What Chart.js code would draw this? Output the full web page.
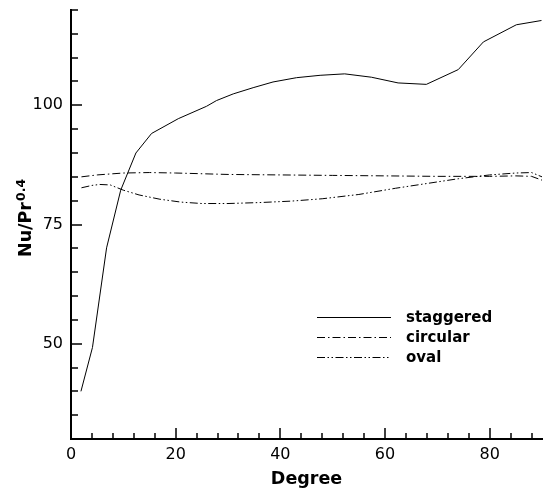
<!DOCTYPE html>
<html>
<head>
<meta charset="utf-8">
<script src="https://cdn.jsdelivr.net/npm/chart.js@4/dist/chart.umd.min.js"></script>
<style>
  html, body { margin: 0; padding: 0; background: #fff; }
  canvas { display: block; }
</style>
</head>
<body>
<canvas id="c" width="554" height="488"></canvas>
<script>
// ---- data ----
const seriesNames = ["staggered", "circular", "oval"];

const staggeredX = [1.9, 4.1, 6.8, 9.5, 12.4, 15.4, 20.5, 25.9, 27.8, 31.0, 34.8, 38.6, 43.1, 47.6, 52.3, 57.4, 62.5, 67.9, 74.0, 78.8, 85.1, 89.9];
const staggeredY = [40.0, 49.2, 70.1, 82.2, 90.0, 94.1, 97.2, 99.8, 101.0, 102.4, 103.7, 104.9, 105.8, 106.3, 106.6, 105.9, 104.7, 104.4, 107.5, 113.3, 116.9, 117.8];

const circularX = [2, 5, 10, 15, 20, 30, 40, 50, 60, 70, 80, 85, 88, 90];
const circularY = [85.0, 85.4, 85.8, 85.9, 85.8, 85.5, 85.4, 85.3, 85.2, 85.1, 85.1, 85.2, 85.1, 84.3];

const ovalX = [2, 4, 5.5, 7.5, 10, 13, 17, 21, 25, 30, 36, 42, 48, 55, 62, 68, 74, 80, 85, 88, 90];
const ovalY = [82.7, 83.2, 83.4, 83.3, 82.2, 81.2, 80.3, 79.7, 79.4, 79.4, 79.6, 79.9, 80.4, 81.3, 82.6, 83.6, 84.6, 85.4, 85.8, 85.9, 85.0];

const xTickValues = [0, 4, 8, 12, 16, 20, 24, 28, 32, 36, 40, 44, 48, 52, 56, 60, 64, 68, 72, 76, 80, 84, 88];
const xTickLabels = [0, 20, 40, 60, 80];
const yTickValues = [30, 35, 40, 45, 50, 55, 60, 65, 70, 75, 80, 85, 90, 95, 100, 105, 110, 115, 120];
const yTickLabels = [50, 75, 100];

const xTitle = "Degree";
const yTitleMain = "Nu/Pr";
const yTitleSup = "0.4";

// ---- build ----
function pts(xs, ys) { return xs.map((x, i) => ({ x: x, y: ys[i] })); }

const FONT = "'DejaVu Sans', sans-serif";

const overlay = {
  id: 'overlay',
  afterDraw(chart) {
    const ctx = chart.ctx;
    const xs = chart.scales.x, ys = chart.scales.y;
    const ca = chart.chartArea;
    ctx.save();
    // inward tick marks
    ctx.strokeStyle = '#000';
    ctx.lineWidth = 1.5;
    ctx.beginPath();
    xs.ticks.forEach(t => {
      const px = Math.round(xs.getPixelForValue(t.value));
      const len = xTickLabels.includes(t.value) ? 11 : 6;
      ctx.moveTo(px, ca.bottom);
      ctx.lineTo(px, ca.bottom - len);
    });
    ys.ticks.forEach(t => {
      const py = Math.round(ys.getPixelForValue(t.value));
      const len = yTickLabels.includes(t.value) ? 11 : 7;
      ctx.moveTo(ca.left, py);
      ctx.lineTo(ca.left + len, py);
    });
    ctx.stroke();

    // x title
    ctx.fillStyle = '#000';
    ctx.font = "bold 17.5px " + FONT;
    ctx.textAlign = 'center';
    ctx.textBaseline = 'alphabetic';
    ctx.fillText(xTitle, (ca.left + ca.right) / 2, 484);

    // y title with superscript
    ctx.save();
    ctx.translate(31, 257);
    ctx.rotate(-Math.PI / 2);
    ctx.textAlign = 'left';
    ctx.font = "bold 17.5px " + FONT;
    ctx.fillText(yTitleMain, 0, 0);
    const w = ctx.measureText(yTitleMain).width;
    ctx.font = "bold 12.5px " + FONT;
    ctx.fillText(yTitleSup, w + 1, -6);
    ctx.restore();

    // legend
    const lx0 = 317, lx1 = 391, tx = 406;
    const rows = [317, 337, 357];
    chart.data.datasets.forEach((ds, i) => {
      const y = rows[i];
      ctx.save();
      ctx.strokeStyle = ds.borderColor;
      ctx.lineWidth = ds.borderWidth;
      ctx.setLineDash(ds.borderDash || []);
      ctx.beginPath();
      ctx.moveTo(lx0, y + 0.5);
      ctx.lineTo(lx1, y + 0.5);
      ctx.stroke();
      ctx.restore();
      ctx.font = "bold 15px " + FONT;
      ctx.textAlign = 'left';
      ctx.textBaseline = 'alphabetic';
      ctx.fillStyle = '#000';
      ctx.fillText(ds.label, tx, y + 5);
    });
    ctx.restore();
  }
};

new Chart(document.getElementById('c'), {
  type: 'line',
  data: {
    datasets: [
      { label: seriesNames[0], data: pts(staggeredX, staggeredY), borderColor: '#000', borderWidth: 1, borderDash: [], pointRadius: 0, tension: 0, fill: false },
      { label: seriesNames[1], data: pts(circularX, circularY), borderColor: '#000', borderWidth: 1, borderDash: [8, 3, 1.5, 3], pointRadius: 0, tension: 0, fill: false },
      { label: seriesNames[2], data: pts(ovalX, ovalY), borderColor: '#000', borderWidth: 1, borderDash: [8, 2.5, 1.5, 2.5, 1.5, 2.5], pointRadius: 0, tension: 0, fill: false }
    ]
  },
  options: {
    responsive: false,
    animation: false,
    devicePixelRatio: 1,
    layout: { padding: { top: 10, right: 12, left: 0, bottom: 0 } },
    plugins: { legend: { display: false }, tooltip: { enabled: false } },
    scales: {
      x: {
        type: 'linear', min: 0, max: 90,
        afterBuildTicks: s => { s.ticks = xTickValues.map(v => ({ value: v })); },
        afterFit: s => { s.height = 49; s.paddingLeft = 0; s.paddingRight = 0; },
        grid: { display: false, drawTicks: false },
        border: { display: true, color: '#000', width: 2 },
        ticks: {
          padding: 6, color: '#000', font: { family: FONT, size: 16 }, maxRotation: 0, autoSkip: false,
          callback: v => xTickLabels.includes(v) ? String(v) : ''
        }
      },
      y: {
        type: 'linear', min: 30, max: 120,
        afterBuildTicks: s => { s.ticks = yTickValues.map(v => ({ value: v })); },
        afterFit: s => { s.width = 71; s.paddingTop = 0; s.paddingBottom = 0; },
        grid: { display: false, drawTicks: false },
        border: { display: true, color: '#000', width: 2 },
        ticks: {
          padding: 8, color: '#000', font: { family: FONT, size: 16 }, autoSkip: false,
          callback: v => yTickLabels.includes(v) ? String(v) : ''
        }
      }
    }
  },
  plugins: [overlay]
});
</script>
</body>
</html>
